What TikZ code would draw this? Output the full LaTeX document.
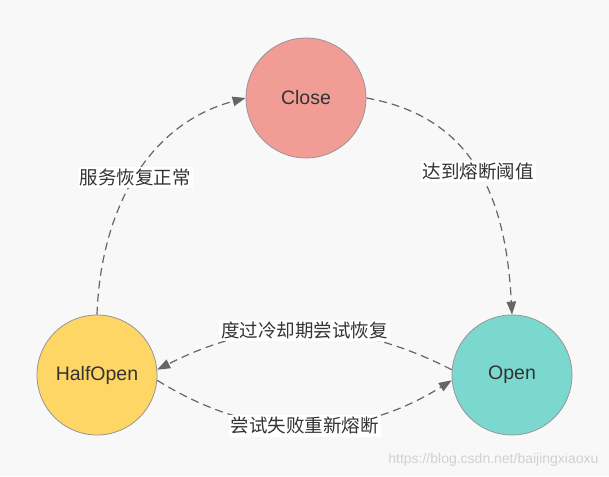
\documentclass[tikz,border=0pt]{standalone}
\usepackage{fontspec}
\setmainfont{Liberation Sans}
\newfontfamily\cjk{Noto Sans CJK SC}
\usetikzlibrary{arrows.meta}
\definecolor{Paper}{RGB}{248,248,248}
\definecolor{Rose}{RGB}{241,157,149}
\definecolor{Sun}{RGB}{253,214,102}
\definecolor{Teal}{RGB}{122,216,206}
\definecolor{Rim}{RGB}{150,150,150}
\definecolor{Ink}{RGB}{102,102,102}

\begin{document}
\begin{tikzpicture}[x=1pt,y=1pt,
 st/.style={circle,draw=Rim,line width=.8pt,minimum size=120pt,inner sep=0pt,text=black!80,font=\fontsize{19.5}{22}\selectfont},
 lab/.style={fill=white,inner sep=2pt,text=black!80,font=\cjk\fontsize{18.5}{22}\selectfont},
 a/.style={-{Triangle[length=13pt,width=9.5pt]},Ink,line width=1.2pt,dash pattern=on 8pt off 5pt}]
\fill[Paper] (0,0) rectangle (609,476);
\useasboundingbox (0,0) rectangle (609,476);
\node[st,fill=Rose] (close) at (306,378) {Close};
\node[st,fill=Sun] (half) at (97,101) {HalfOpen};
\node[st,fill=Teal] (open) at (512,101) {Open};
\draw[a] (half.north) to[out=88,in=195] node[lab] {服务恢复正常} (close.west);
\draw[a] (close.east) to[out=-10,in=93,looseness=1.1] node[lab] {达到熔断阈值} (open.north);
\draw[a] (open.175) to[bend right=27] node[lab] {度过冷却期尝试恢复} (half.5);
\draw[a] (half.-5) to[bend right=32] node[lab] {尝试失败重新熔断} (open.185);
\node[text=black!18,font=\fontsize{14}{16}\selectfont,anchor=east] (wm) at (602,16) {https://blog.csdn.net/baijingxiaoxu};
\end{tikzpicture}
\end{document}
